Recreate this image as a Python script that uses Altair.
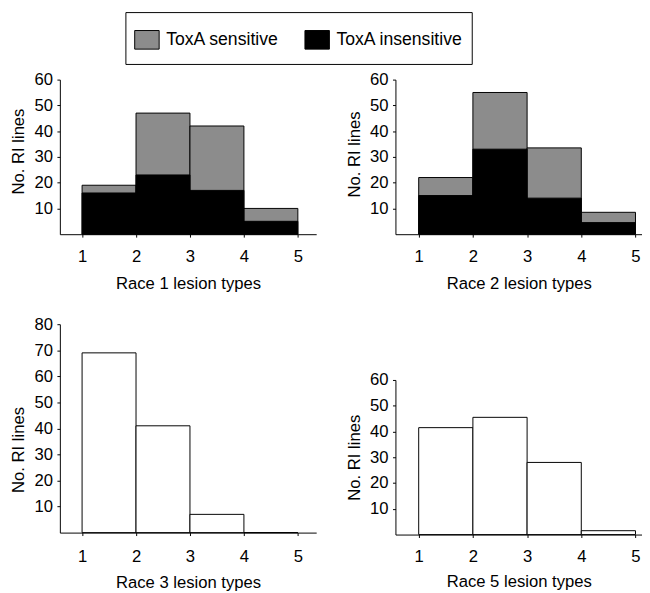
import altair as alt
import pandas as pd

# ---- data ----
bins_start = [1, 2, 3, 4]
bins_end = [2, 3, 4, 5]
x_ticks = [1, 2, 3, 4, 5]
statuses = ["ToxA sensitive", "ToxA insensitive"]
status_colors = ["#8c8c8c", "#000000"]

race1_insensitive = [16, 23, 17, 5]
race1_sensitive = [3, 24, 25, 5]
race2_insensitive = [15, 33, 14, 4.5]
race2_sensitive = [7, 22, 19.5, 4]
race3_counts = [69, 41, 7, 0]
race5_counts = [41.5, 45.5, 28, 1.5]

FONT = "Liberation Sans"
FS = 17


def stacked_df(ins, sen):
    rows = []
    for s, e, a, b in zip(bins_start, bins_end, ins, sen):
        rows.append({"start": s, "end": e, "low": 0, "high": a + b, "status": statuses[0]})
    for s, e, a in zip(bins_start, bins_end, ins):
        rows.append({"start": s, "end": e, "low": 0, "high": a, "status": statuses[1]})
    return pd.DataFrame(rows)


def plain_df(counts):
    return pd.DataFrame({"start": bins_start, "end": bins_end,
                         "low": [0] * len(counts), "high": counts})


legend = alt.Legend(
    title=None, orient="none", legendX=67, legendY=-69, direction="horizontal",
    labelFontSize=18, labelFont=FONT, labelColor="black", labelOffset={"expr": "-5.3"},
    symbolType="M-1,-0.72M-1,-0.514L0.351,-0.514L0.351,0.514L-1,0.514ZM-1,0.72",
    symbolSize=1369,
    symbolStrokeColor="black", symbolStrokeWidth=1, symbolOpacity=1,
    columnPadding=24, padding=9, strokeColor="black", fillColor="white",
)


def panel(df, title, xdom, ymax, yticks, w, h, color=True,
          label_pad=12, title_pad=12, title_y=None):
    mark_kw = {"stroke": "black", "strokeWidth": 1}
    if not color:
        mark_kw["fill"] = "white"
    yaxis_kw = {"values": yticks, "title": "No. RI lines"}
    if title_y is not None:
        yaxis_kw["titleY"] = title_y
    enc = dict(
        x=alt.X("start:Q", scale=alt.Scale(domain=xdom, nice=False, zero=False),
                axis=alt.Axis(values=x_ticks, format="d", title=title,
                              labelPadding=label_pad, titlePadding=title_pad)),
        x2="end:Q",
        y=alt.Y("low:Q", scale=alt.Scale(domain=[0, ymax], nice=False),
                axis=alt.Axis(**yaxis_kw)),
        y2="high:Q",
    )
    if color:
        enc["color"] = alt.Color("status:N",
                                 scale=alt.Scale(domain=statuses, range=status_colors),
                                 legend=legend)
    return alt.Chart(df).mark_rect(**mark_kw).encode(**enc).properties(width=w, height=h)


p1 = panel(stacked_df(race1_insensitive, race1_sensitive), "Race 1 lesion types",
           [0.588, 5.34], 60, [10, 20, 30, 40, 50, 60], 262, 158, title_y=73)
p2 = panel(stacked_df(race2_insensitive, race2_sensitive), "Race 2 lesion types",
           [0.571, 5.12], 60, [10, 20, 30, 40, 50, 60], 252, 158, title_y=76)
p3 = panel(plain_df(race3_counts), "Race 3 lesion types",
           [0.588, 5.34], 80, [10, 20, 30, 40, 50, 60, 70, 80], 262, 213,
           color=False, label_pad=14, title_pad=10, title_y=128)
p4 = panel(plain_df(race5_counts), "Race 5 lesion types",
           [0.571, 5.12], 60, [10, 20, 30, 40, 50, 60], 252, 158, color=False,
           title_pad=9)

left = alt.vconcat(p1, p3, spacing=24)
right = alt.vconcat(p2, p4, spacing=81)

chart = alt.hconcat(left, right, spacing=30).properties(
    padding={"left": 2, "top": -3.3, "right": 0, "bottom": 0}
).configure_axis(
    domainColor="black", tickColor="black", labelColor="black", titleColor="black",
    labelFont=FONT, titleFont=FONT, labelFontSize=FS, titleFontSize=FS,
    titleFontWeight="normal", grid=False, tickSize=3, domainWidth=1, tickWidth=1,
).configure_axisY(
    labelPadding=4.5, titlePadding=6.5,
).configure_view(stroke=None)

chart.save("out.html", embed_options={"renderer": "svg", "actions": False})
